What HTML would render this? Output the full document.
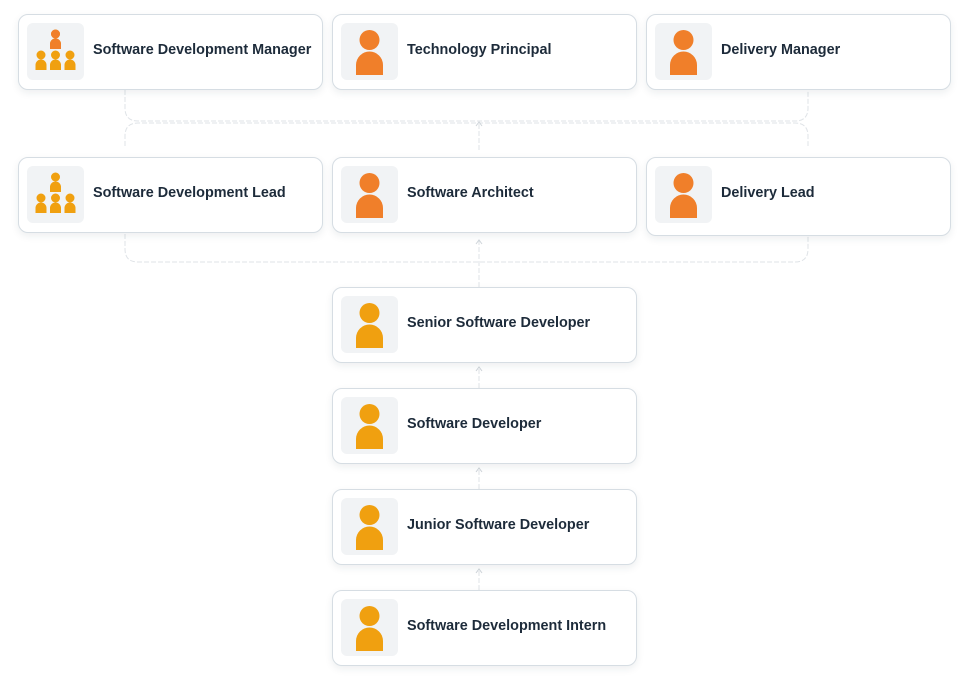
<!DOCTYPE html>
<html><head><style>
body{margin:0;width:974px;height:693px;background:#fff;font-family:"Liberation Sans",sans-serif;position:relative;overflow:hidden}
.n{position:absolute;width:303px;height:74px;border:1px solid #d6dde3;border-radius:10px;background:#fff;box-shadow:0 3px 8px rgba(30,50,70,.08)}
.ic{position:absolute;left:8px;top:8px;width:57px;height:57px;background:#f1f3f5;border-radius:6px}
.t{position:absolute;left:74px;top:0;line-height:70px;font-size:14.4px;font-weight:bold;color:#1d2b3a}
</style></head><body>
<svg width="974" height="693" style="position:absolute;left:0;top:0">
<g fill="none" stroke="#dfe3e7" stroke-width="1" stroke-dasharray="5 2">
<path d="M125 90 V108 Q125 121 138 121 H795 Q808 121 808 108 V90"/>
<path d="M125 146 V136 Q125 123 138 123 H795 Q808 123 808 136 V146"/>
<path d="M479 150 V123"/>
<path d="M125 234 V249 Q125 262 138 262 H795 Q808 262 808 249 V236"/>
<path d="M479 287 V241"/>
<path d="M479 388 V368"/><path d="M479 489 V469"/><path d="M479 590 V570"/>
</g>
<g fill="none" stroke="#cfd5da" stroke-width="1">
<path d="M476 126 L479 122 L482 126 M476 244 L479 240 L482 244 M476 371 L479 367 L482 371 M476 472 L479 468 L482 472 M476 573 L479 569 L482 573"/>
</g>
</svg>
<svg width="0" height="0" style="position:absolute"><defs>
<symbol id="p" viewBox="0 0 57 57"><circle cx="28.5" cy="17" r="10"/><path d="M15 52 V42 a13.5 13.5 0 0 1 27 0 V52 Z"/></symbol>
<symbol id="g" viewBox="0 0 57 57">
<circle cx="28.5" cy="11" r="4.5"/><path d="M23 26 v-5 a5.5 5.5 0 0 1 11 0 v5z"/>
<circle cx="14" cy="32" r="4.5"/><path d="M8.5 47 v-5 a5.5 5.5 0 0 1 11 0 v5z"/>
<circle cx="28.5" cy="32" r="4.5"/><path d="M23 47 v-5 a5.5 5.5 0 0 1 11 0 v5z"/>
<circle cx="43" cy="32" r="4.5"/><path d="M37.5 47 v-5 a5.5 5.5 0 0 1 11 0 v5z"/>
</symbol></defs></svg>

<div class="n" style="left:18px;top:14px"><div class="ic"><svg width="57" height="57"><use href="#g" fill="#f0a010"/><circle cx="28.5" cy="11" r="4.5" fill="#f07f2a"/><path d="M23 26 v-5 a5.5 5.5 0 0 1 11 0 v5z" fill="#f07f2a"/></svg></div><div class="t">Software Development Manager</div></div>
<div class="n" style="left:332px;top:14px"><div class="ic"><svg width="57" height="57"><use href="#p" fill="#f07f2a"/></svg></div><div class="t">Technology Principal</div></div>
<div class="n" style="left:646px;top:14px"><div class="ic"><svg width="57" height="57"><use href="#p" fill="#f07f2a"/></svg></div><div class="t">Delivery Manager</div></div>

<div class="n" style="left:18px;top:157px"><div class="ic"><svg width="57" height="57"><use href="#g" fill="#f0a010"/></svg></div><div class="t">Software Development Lead</div></div>
<div class="n" style="left:332px;top:157px"><div class="ic"><svg width="57" height="57"><use href="#p" fill="#f07f2a"/></svg></div><div class="t">Software Architect</div></div>
<div class="n" style="left:646px;top:157px;height:77px"><div class="ic"><svg width="57" height="57"><use href="#p" fill="#f07f2a"/></svg></div><div class="t">Delivery Lead</div></div>

<div class="n" style="left:332px;top:287px"><div class="ic"><svg width="57" height="57"><use href="#p" fill="#f0a010"/></svg></div><div class="t">Senior Software Developer</div></div>
<div class="n" style="left:332px;top:388px"><div class="ic"><svg width="57" height="57"><use href="#p" fill="#f0a010"/></svg></div><div class="t">Software Developer</div></div>
<div class="n" style="left:332px;top:489px"><div class="ic"><svg width="57" height="57"><use href="#p" fill="#f0a010"/></svg></div><div class="t">Junior Software Developer</div></div>
<div class="n" style="left:332px;top:590px"><div class="ic"><svg width="57" height="57"><use href="#p" fill="#f0a010"/></svg></div><div class="t">Software Development Intern</div></div>
</body></html>
